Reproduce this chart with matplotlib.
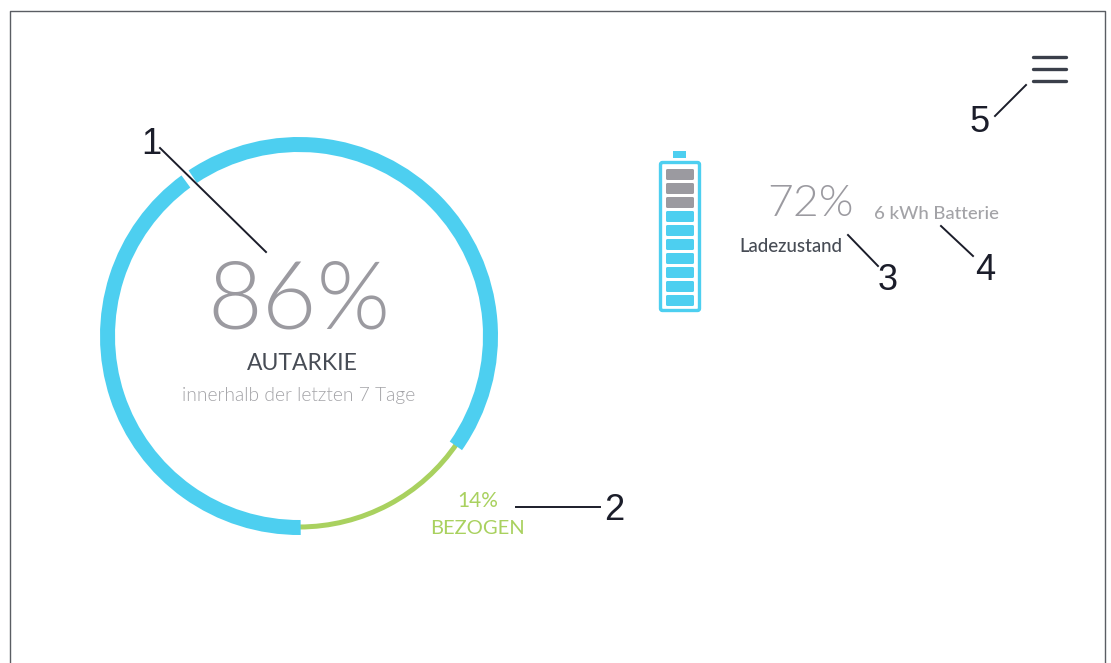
# Anzeige Autarkie / Batterie nachzeichnen
import matplotlib.pyplot as plt
from matplotlib.patches import Wedge, FancyBboxPatch, Rectangle

# Werte aus dem Bild
autarkie_text = "86%"
bezogen_text = "14%"
ladezustand_text = "72%"
batterie_text = "6 kWh Batterie"
# Bogen in Grad (mathematisch)
blau_bogen_1 = (-35.0, 123.7)
blau_bogen_2 = (126.2, 270.5)
gruen_bogen = (270.0, 326.0)
batterie_segmente = 10
batterie_voll = 7

BLAU = "#4DCFF0"
GRUEN = "#A9D15F"
GRAU = "#9B9AA0"
HELLGRAU = "#A3A3A7"
DUNKEL = "#474C55"
LINIE = "#1B1D2A"

fig = plt.figure(figsize=(11.11, 6.63), dpi=100)
ax = fig.add_axes([0, 0, 1, 1])
ax.set_xlim(0, 1111)
ax.set_ylim(663, 0)
ax.axis("off")

# Rahmen
ax.plot([10, 10, 1105, 1105], [663, 11, 11, 663], color="#5A5D63", lw=1)

# Ring: y-Achse ist gedreht, deshalb Winkel spiegeln
cx, cy = 299, 336
def ring(start, end, r, w, color, z=2):
    ax.add_patch(Wedge((cx, cy), r, -end, -start, width=w, color=color, lw=0, zorder=z))

ring(gruen_bogen[0], gruen_bogen[1], 193.5, 5, GRUEN)
ring(blau_bogen_1[0], blau_bogen_1[1], 199, 15, BLAU, 3)
ring(blau_bogen_2[0], blau_bogen_2[1], 199, 15, BLAU, 3)

# Texte im Ring
ax.text(299, 302, autarkie_text, fontsize=68, family="Lato", weight=300,
        color=GRAU, ha="center", va="center")
ax.text(302, 363, "AUTARKIE", fontsize=16.5, family="Lato", color=DUNKEL,
        ha="center", va="center")
ax.text(299, 396, "innerhalb der letzten 7 Tage", fontsize=13.8, family="Lato",
        weight=300, color=HELLGRAU, ha="center", va="center")
ax.text(478, 501, bezogen_text, fontsize=15, family="Lato", color=GRUEN,
        ha="center", va="center")
ax.text(477, 528, "BEZOGEN", fontsize=14.5, family="Lato", color=GRUEN,
        ha="center", va="center")

# Batterie
ax.add_patch(Rectangle((673, 151), 13, 6.5, color=BLAU, lw=0))
ax.add_patch(FancyBboxPatch((660.5, 162.5), 39, 148, boxstyle="round,pad=0,rounding_size=2",
                            fc="white", ec=BLAU, lw=2.4))
for i in range(batterie_segmente):
    y = 169 + i * 14.0
    farbe = GRAU if i < batterie_segmente - batterie_voll else BLAU
    ax.add_patch(FancyBboxPatch((666, y), 28, 11, boxstyle="round,pad=0,rounding_size=1.5",
                                fc=farbe, ec="none"))

ax.text(810, 205, ladezustand_text, fontsize=32, family="Lato", weight=300,
        color=GRAU, ha="center", va="center")
ax.text(739, 247, "Ladezustand", fontsize=13.4, family="Lato", weight=500,
        color=DUNKEL, ha="left", va="center")
ax.text(874, 214, batterie_text, fontsize=13.3, family="Lato", weight=500, color=HELLGRAU,
        ha="left", va="center")

# Menue
for y in [57, 69, 81]:
    ax.plot([1033, 1066], [y, y], color="#3A3F4A", lw=2.4, solid_capstyle="round")

# Nummern mit Hinweislinien
hinweise = [
    ("1", 151, 145, (160, 148), (266, 252)),
    ("2", 614, 511, (516, 507), (600, 507)),
    ("3", 888, 280, (848, 235), (878, 266)),
    ("4", 985, 271, (941, 226), (973, 256)),
    ("5", 980, 123, (1026, 85), (995, 116)),
]
for nummer, tx, ty, a, b in hinweise:
    ax.plot([a[0], b[0]], [a[1], b[1]], color=LINIE, lw=1.4, zorder=5)
    ax.text(tx, ty, nummer, fontsize=26, family="Liberation Sans", color=LINIE,
            ha="center", va="center", zorder=5)

fig.savefig("out.png", dpi=100)
